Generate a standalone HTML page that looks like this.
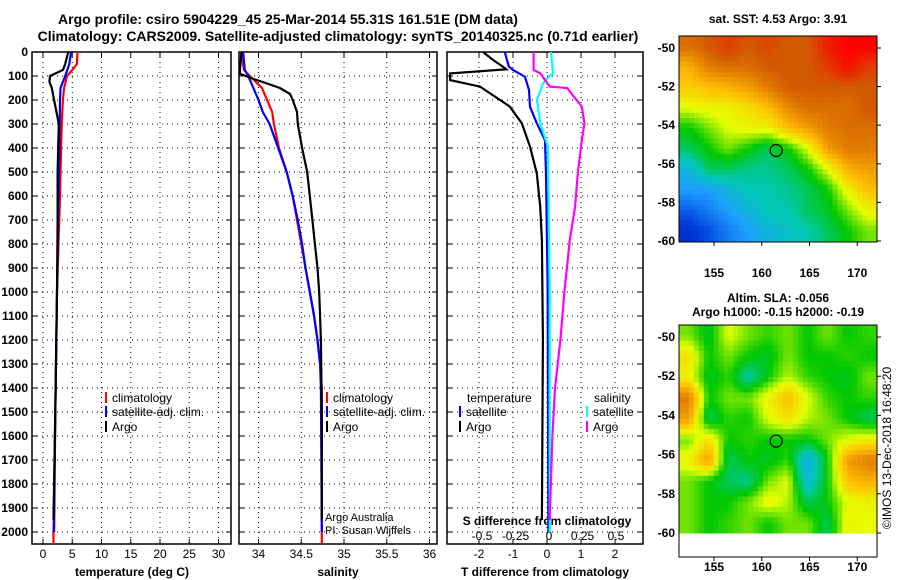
<!DOCTYPE html>
<html><head><meta charset="utf-8"><style>
body{margin:0;background:#fff;}
svg{display:block;font-family:"Liberation Sans",sans-serif;}
.b{font-weight:bold;font-size:12px;}
</style></head><body>
<svg id="c" width="900" height="580"></svg>
<script>
// ---- data ----
const tDepth=[0,50,75,100,125,150,200,300,400,500,700,1000,1500,1950];
const tArgo=[4.3,3.8,3.4,1.2,1.1,1.5,1.9,2.7,2.6,2.5,2.5,2.4,2.1,1.8];
const tSatDepth=[0,50,100,150,200,400,700,1000,1500,2000];
const tSat=[4.8,4.5,3.8,3.0,2.9,2.8,2.6,2.4,2.1,1.9];
const tClimDepth=[0,50,75,100,150,200,300,400,600,1000,1500,2000,2050];
const tClim=[5.9,5.8,5.0,4.1,3.6,3.4,3.2,3.1,2.9,2.4,2.1,1.8,1.8];
const sArgoDepth=[0,90,100,110,125,150,175,200,250,300,400,500,600,700,800,900,1000,1200,1500,1950];
const sArgo=[33.8,33.78,33.85,33.92,34.05,34.25,34.37,34.40,34.45,34.46,34.51,34.57,34.60,34.63,34.66,34.69,34.71,34.73,34.74,34.74];
const sSatDepth=[0,75,100,150,200,250,300,400,500,600,700,800,900,1000,1100,1200,1300,1400,2000];
const sSat=[33.82,33.84,33.88,33.94,34.0,34.05,34.13,34.23,34.33,34.40,34.46,34.51,34.55,34.6,34.65,34.69,34.72,34.73,34.74];
const sClimDepth=[0,75,100,150,200,250,300,400,500,600,700,800,900,1000,1100,1200,1300,1400,2050];
const sClim=[33.80,33.83,33.9,34.04,34.1,34.16,34.18,34.24,34.33,34.40,34.45,34.50,34.55,34.6,34.65,34.69,34.72,34.74,34.74];
const dTArgoDepth=[0,33,61,72,89,117,144,200,228,297,394,506,644,783,1200,1950];
const dTArgo=[-1.88,-1.59,-1.3,-1.2,-2.85,-2.85,-1.97,-1.38,-1.09,-0.74,-0.5,-0.3,-0.2,-0.15,-0.12,-0.15];
const dTSatDepth=[0,33,61,75,103,158,228,297,367,506,1000,2000];
const dTSat=[-1.24,-1.18,-1.12,-1.0,-0.65,-0.53,-0.5,-0.3,-0.06,-0.03,0.02,0.04];
const dSSatDepth=[0,89,110,131,200,297,394,1000,2000];
const dSSat=[0.03,0.045,0.0,-0.03,-0.075,-0.05,0.007,0.02,0.02];
const dSArgoDepth=[0,75,89,144,150,228,297,367,506,644,783,1000,1200,1400,1600,1950];
const dSArgo=[-0.1,-0.1,-0.05,0.02,0.15,0.26,0.28,0.26,0.23,0.21,0.17,0.13,0.1,0.06,0.04,0.02];
const depthTicks=[0,100,200,300,400,500,600,700,800,900,1000,1100,1200,1300,1400,1500,1600,1700,1800,1900,2000];
const tTicks=[0,5,10,15,20,25,30];
const sTicks=[34,34.5,35,35.5,36];
const sTickLabels=["34","34.5","35","35.5","36"];
const dtTicks=[-2,-1,0,1,2];
const dsTicks=[-0.5,-0.25,0,0.25,0.5];
const dsTickLabels=["-0.5","-0.25","0","0.25","0.5"];
const lonTicks=[155,160,165,170];
const latTicks=[-50,-52,-54,-56,-58,-60];
const sstGrid=[
[.82,.85,.9,.85,.88,.85,.85,.95,1,1],
[.72,.8,.82,.82,.85,.85,.85,.9,.98,.9],
[.68,.7,.72,.75,.8,.85,.85,.85,.85,.85],
[.6,.62,.62,.65,.7,.78,.82,.82,.82,.85],
[.5,.55,.6,.62,.62,.7,.75,.8,.82,.82],
[.45,.5,.55,.5,.45,.5,.6,.75,.8,.8],
[.35,.45,.45,.42,.42,.45,.5,.6,.72,.75],
[.3,.3,.35,.4,.4,.42,.45,.5,.62,.7],
[.2,.25,.3,.35,.4,.4,.45,.48,.55,.62],
[.12,.18,.25,.3,.35,.38,.4,.45,.5,.55]];
const slaGrid=[
[.55,.48,.6,.55,.52,.55,.5,.55,.5,.52],
[.65,.5,.55,.5,.48,.55,.5,.5,.52,.5],
[.62,.48,.52,.4,.5,.58,.52,.5,.48,.55],
[.8,.5,.55,.55,.62,.7,.6,.52,.5,.52],
[.75,.45,.52,.5,.6,.65,.58,.55,.5,.45],
[.55,.65,.5,.52,.5,.5,.5,.55,.6,.62],
[.62,.75,.45,.5,.48,.52,.32,.5,.75,.8],
[.55,.5,.45,.42,.55,.6,.35,.5,.7,.72],
[.55,.5,.5,.55,.62,.58,.45,.5,.6,.62],
[.55,.5,.52,.55,.5,.55,.55,.45,.62,.6]];
const argoLon=161.51, argoLat=-55.31;

const svg=document.getElementById('c');
const NS='http://www.w3.org/2000/svg';
function mk(tag,attrs,parent){const e=document.createElementNS(NS,tag);for(const k in attrs)e.setAttribute(k,attrs[k]);(parent||svg).appendChild(e);return e;}
function txt(x,y,s,cls,anchor,parent){const t=mk('text',{x:x,y:y,'text-anchor':anchor||'start'},parent);if(cls)t.setAttribute('class',cls);t.textContent=s;return t;}

const yD=d=>52+d*0.24;
const PB=544;
const xT=v=>43+v*5.85;
const xS=v=>258.5+(v-34)*85.5;
const xDT=v=>547+v*34;
const xDS=v=>547+v*134;

let t=txt(288,24,'Argo profile: csiro 5904229_45 25-Mar-2014 55.31S 161.51E (DM data)','b','middle');
t.style.fontSize='14px';
t=txt(338,41,'Climatology: CARS2009. Satellite-adjusted climatology: synTS_20140325.nc (0.71d earlier)','b','middle');
t.style.fontSize='14px';

const panels=[{x0:32,x1:231,name:'temperature-panel'},{x0:239,x1:437,name:'salinity-panel'},{x0:447,x1:643,name:'difference-panel'}];
panels.forEach((p,i)=>{
 const g=mk('g',{});
 
 
 depthTicks.forEach(d=>{ if(d>0) mk('line',{x1:p.x0,x2:p.x1,y1:yD(d),y2:yD(d),stroke:'#000','stroke-dasharray':'1,4'},g);
   mk('line',{x1:p.x0,x2:p.x0+5,y1:yD(d),y2:yD(d),stroke:'#000'},g);mk('line',{x1:p.x1-5,x2:p.x1,y1:yD(d),y2:yD(d),stroke:'#000'},g);});
 const vt = i==0?tTicks.map(xT): i==1?sTicks.map(xS):dtTicks.map(xDT);
 vt.forEach(x=>{mk('line',{x1:x,x2:x,y1:52,y2:PB,stroke:'#000','stroke-dasharray':'1,4'},g);
   mk('line',{x1:x,x2:x,y1:PB-5,y2:PB,stroke:'#000'},g);mk('line',{x1:x,x2:x,y1:52,y2:57,stroke:'#000'},g);});
 mk('rect',{x:p.x0,y:52,width:p.x1-p.x0,height:PB-52,fill:'none',stroke:'#000','stroke-width':1.5},g);
});
depthTicks.forEach(d=>{const e=txt(28,yD(d)+4,String(d),'b','end');});
tTicks.forEach(v=>{const e=txt(xT(v),558,String(v),null,'middle');e.setAttribute('font-size','12');});
sTicks.forEach((v,i)=>{const e=txt(xS(v),558,sTickLabels[i],null,'middle');e.setAttribute('font-size','12');});
dtTicks.forEach(v=>{const e=txt(xDT(v),558,String(v),null,'middle');e.setAttribute('font-size','12');});
dsTicks.forEach((v,i)=>{const e=txt(xDS(v)+2,540,dsTickLabels[i],null,'middle');e.setAttribute('font-size','12');});
[[132,'temperature (deg C)','temperature-axis-title'],[338,'salinity','salinity-axis-title'],[545,'T difference from climatology','tdiff-axis-title']].forEach(a=>{const e=txt(a[0],576,a[1],'b','middle');});
t=txt(547,525,'S difference from climatology','b','middle');

function line(depths,vals,xf,color,name){
 const pts=depths.map((d,i)=>xf(vals[i]).toFixed(1)+','+Math.min(yD(d),PB).toFixed(1)).join(' ');
 const e=mk('polyline',{points:pts,fill:'none',stroke:color,'stroke-width':2.2});
 
 return e;
}
const clipR=mk('clipPath',{id:'p3'});mk('rect',{x:447,y:52,width:196,height:492},clipR);
line(tClimDepth,tClim,xT,'#f00','temperature-climatology-line');
line(tSatDepth,tSat,xT,'#00f','temperature-satellite-line');
line(tDepth,tArgo,xT,'#000','temperature-argo-line');
line(sClimDepth,sClim,xS,'#f00','salinity-climatology-line');
line(sSatDepth,sSat,xS,'#00f','salinity-satellite-line');
line(sArgoDepth,sArgo,xS,'#000','salinity-argo-line');
line(dTArgoDepth,dTArgo,xDT,'#000','tdiff-argo-line').setAttribute('clip-path','url(#p3)');
line(dTSatDepth,dTSat,xDT,'#00f','tdiff-satellite-line').setAttribute('clip-path','url(#p3)');
line(dSSatDepth,dSSat,xDS,'#0ff','sdiff-satellite-line').setAttribute('clip-path','url(#p3)');
line(dSArgoDepth,dSArgo,xDS,'#f0f','sdiff-argo-line').setAttribute('clip-path','url(#p3)');

function leg(x,y,color,label,name){
 const g=mk('g',{});
 mk('line',{x1:x,x2:x,y1:y-10,y2:y+1,stroke:color,'stroke-width':2},g);
 const e=txt(x+6,y,label,null,'start',g);e.setAttribute('font-size','12');
}
leg(106,402,'#f00','climatology','legend-climatology');
leg(106,416,'#00f','satellite-adj. clim.','legend-satellite');
leg(106,431,'#000','Argo','legend-argo');
leg(327,402,'#f00','climatology','legend-climatology-2');
leg(327,416,'#00f','satellite-adj. clim.','legend-satellite-2');
leg(327,431,'#000','Argo','legend-argo-2');
t=txt(467,402,'temperature',null);t.setAttribute('font-size','12');
leg(460,416,'#00f','satellite','legend-t-satellite');
leg(460,431,'#000','Argo','legend-t-argo');
t=txt(594,402,'salinity',null);t.setAttribute('font-size','12');
leg(587,416,'#0ff','satellite','legend-s-satellite');
leg(587,431,'#f0f','Argo','legend-s-argo');
t=txt(325,521,'Argo Australia',null);t.setAttribute('font-size','11');
t=txt(325,534,'PI: Susan Wijffels',null);t.setAttribute('font-size','11');

function cmap(v){
 const stops=[[0,[0,0,160]],[0.15,[0,60,220]],[0.3,[30,160,255]],[0.4,[0,200,180]],[0.5,[0,200,0]],[0.6,[230,255,0]],[0.7,[255,190,0]],[0.85,[210,90,0]],[1,[255,0,0]]];
 v=Math.max(0,Math.min(1,v));
 for(let i=1;i<stops.length;i++){if(v<=stops[i][0]){const a=stops[i-1],b=stops[i];const f=(v-a[0])/(b[0]-a[0]);return 'rgb('+a[1].map((c,k)=>Math.round(c+(b[1][k]-c)*f)).join(',')+')';}}
 return 'rgb(255,0,0)';
}
function sample(grid,u,v){ // bilinear, u,v in [0,1]
 const R=grid.length,C=grid[0].length;
 const fx=Math.max(0,Math.min(C-1,u*C-0.5)),fy=Math.max(0,Math.min(R-1,v*R-0.5));
 const j=Math.min(C-2,Math.floor(fx)),i=Math.min(R-2,Math.floor(fy));const a=fx-j,b=fy-i;
 return grid[i][j]*(1-a)*(1-b)+grid[i][j+1]*a*(1-b)+grid[i+1][j]*(1-a)*b+grid[i+1][j+1]*a*b;
}
function map(y0,yBot,latTopY,latBotY,grid,name,xLabY){
 const x0=679,x1=877;
 const lonX=l=>714+(l-155)*9.55;
 const latY=la=>latTopY+(-50-la)*(latBotY-latTopY)/10;
 const g=mk('g',{});
 const gy0=y0,gy1=latY(-60);
 const N=40;const cw=(x1-x0)/N,ch=(gy1-gy0)/N;
 for(let i=0;i<N;i++)for(let j=0;j<N;j++){
   const c=mk('rect',{x:x0+j*cw,y:gy0+i*ch,width:cw+0.5,height:ch+0.5,fill:cmap(sample(grid,(j+0.5)/N,(i+0.5)/N))},g);
 }
 mk('rect',{x:x0,y:y0,width:x1-x0,height:yBot-y0,fill:'none',stroke:'#000'},g);
 const circ=mk('circle',{cx:lonX(argoLon),cy:latY(argoLat),r:6,fill:'none',stroke:'#000','stroke-width':1.2},g);
 
 latTicks.forEach(la=>{mk('line',{x1:x1,x2:x1+4,y1:latY(la),y2:latY(la),stroke:'#000'},g);
   const e=txt(675,latY(la)+4,String(la),'b','end',g);});
 lonTicks.forEach(l=>{mk('line',{x1:lonX(l),x2:lonX(l),y1:yBot,y2:yBot+4,stroke:'#000'},g);
   const e=txt(lonX(l),xLabY,String(l),'b','middle',g);});
}
map(36,242,48,241,sstGrid,'sst-map',277);
map(325,557,337,533,slaGrid,'sla-map',571);
t=txt(778,23,'sat. SST: 4.53 Argo: 3.91','b','middle');
t=txt(778,302,'Altim. SLA: -0.056','b','middle');
t=txt(778,316,'Argo h1000: -0.15 h2000: -0.19','b','middle');
t=txt(0,0,'©IMOS 13-Dec-2018 16:48:20',null,'middle');t.setAttribute('font-size','12');
t.setAttribute('transform','translate(891,448) rotate(-90)');

</script>
</body></html>
